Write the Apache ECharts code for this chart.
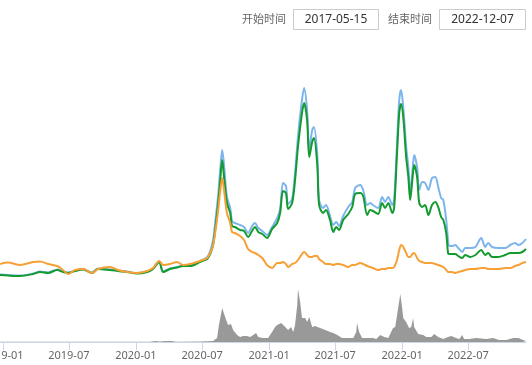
<!DOCTYPE html>
<html>
<head>
<meta charset="utf-8">
<script src="https://cdn.jsdelivr.net/npm/echarts@6/dist/echarts.min.js"></script>
<style>
html,body{margin:0;padding:0;background:#fff;}
#chart{width:532px;height:365px;}
</style>
</head>
<body>
<div id="chart"></div>
<script>
var startLabel = '开始时间';
var endLabel = '结束时间';
var startDate = '2017-05-15';
var endDate = '2022-12-07';
var axisMin = '2018-12-24';
var axisMax = '2022-12-07';

var tickDates = ['2019-01-01','2019-07-01','2020-01-01','2020-07-01','2021-01-01','2021-07-01','2022-01-01','2022-07-01'];

var lineDates = ['2018-12-24','2019-01-15','2019-02-17','2019-03-25','2019-04-13','2019-05-05','2019-05-30','2019-06-15','2019-06-29','2019-07-18',
'2019-08-09','2019-09-03','2019-09-19','2019-10-22','2019-11-13','2019-12-08','2020-01-04','2020-02-01','2020-02-17','2020-03-05',
'2020-03-16','2020-04-04','2020-04-23','2020-05-10','2020-05-29','2020-06-25','2020-07-15','2020-07-23','2020-07-31','2020-08-08',
'2020-08-14','2020-08-19','2020-08-25','2020-08-30','2020-09-07','2020-09-16','2020-09-21','2020-09-29','2020-10-13','2020-10-24',
'2020-11-04','2020-11-15','2020-11-23','2020-12-02','2020-12-13','2020-12-26','2021-01-09','2021-01-23','2021-01-31','2021-02-08',
'2021-02-16','2021-02-22','2021-03-05','2021-03-13','2021-03-21','2021-04-01','2021-04-07','2021-04-15','2021-04-21','2021-04-29',
'2021-05-04','2021-05-13','2021-05-18','2021-05-29','2021-06-06','2021-06-17','2021-06-26','2021-07-04','2021-07-12','2021-07-23',
'2021-08-06','2021-08-17','2021-08-25','2021-09-08','2021-09-16','2021-09-27','2021-10-05','2021-10-13','2021-10-27','2021-11-07',
'2021-11-15','2021-11-24','2021-12-05','2021-12-10','2021-12-18','2021-12-24','2021-12-29','2022-01-04','2022-01-12','2022-01-18',
'2022-01-23','2022-01-29','2022-02-03','2022-02-11','2022-02-17','2022-02-25','2022-03-05','2022-03-14','2022-03-24','2022-04-02',
'2022-04-10','2022-04-18','2022-04-24','2022-05-02','2022-05-07','2022-05-10','2022-05-18','2022-05-27','2022-06-04','2022-06-15',
'2022-06-23','2022-07-07','2022-07-21','2022-08-06','2022-08-17','2022-08-25','2022-09-05','2022-09-22','2022-10-11','2022-10-25',
'2022-11-07','2022-11-16','2022-11-27','2022-12-07'];

var orangeValues = [16,17.5,15,18,18.5,16,14,10,6,10,
11,7,11,13,10,8,7,9,12,19,
15,16,18,15,16,19,22,27,35,53,
70,87,102,90,67,57,48,47,44,40,
31,28,27,25,22,15,12,17,17,18,
16,13,16,17,20,26,28,25,23,23,
24,24,21,18,16,16,15,16,16,15,
13,15,15,17,16,14,13,12,10,11,
11,12,12,13,20,30,35,33,27,23,
23,26,27,22,19,18,17,17,17,16,
15,14,13,10,8,8,8,7,8,9,
10,11,11,12,12,11,11,11,12,12,
14,15,17,18];

var greenValues = [5,4.5,4,6,8,7,10,8,7,9,
10.5,7,11,10,9,8,6.5,8,11,18,
8,11,12.5,14,14,18,21,26,35,57,
77,97,120,103,77,67,54,53,50,49,
43,49,53,48,46,42,51,57,67,89,
87,71,77,100,133,167,177,160,123,138,
142,115,75,67,70,60,48,53,50,60,
66,73,86,87,84,65,70,69,66,77,
72,77,67,72,127,167,176,163,123,103,
80,100,115,103,77,73,75,65,75,78,
73,63,60,47,27,26,26,26,24,22,
25,23,25,30,25,27,23,23,25,27,
27,27,28,31];

var blueValues = [5.5,5,4.5,6.5,8.5,7.5,10.5,8.5,7.5,9.5,
11,7.5,11.5,10.5,9.5,8.5,7,8.5,11.5,18.5,
8.5,11.5,13,14.5,15,19,23,29,40,65,
85,108,130,115,83,72,59,57,55,53,
47,54,57,52,49,45,53,62,71,97,
94,76,81,107,143,180,192,170,130,150,
153,125,80,72,75,64,55,58,54,64,
73,78,92,95,90,75,77,75,72,83,
78,83,75,80,137,180,190,173,133,113,
87,107,125,113,90,98,97,90,102,103,
93,82,80,60,40,34,34,35,32,28,
32,32,33,42,33,37,33,32,32,35,
37,35,37,41];

var areaDates = ['2018-12-24','2019-09-25','2020-02-09','2020-02-23','2020-03-07','2020-03-21','2020-04-09','2020-04-20','2020-06-25','2020-07-31',
'2020-08-11','2020-08-16','2020-08-25','2020-09-02','2020-09-10','2020-09-18','2020-09-24','2020-10-05','2020-10-13','2020-10-21',
'2020-11-01','2020-11-10','2020-11-18','2020-11-26','2020-12-02','2020-12-15','2020-12-29','2021-01-09','2021-01-17','2021-01-23',
'2021-01-26','2021-02-03','2021-02-14','2021-02-22','2021-03-02','2021-03-08','2021-03-13','2021-03-19','2021-03-21','2021-03-27',
'2021-04-01','2021-04-10','2021-04-15','2021-04-21','2021-04-29','2021-05-07','2021-05-21','2021-06-04','2021-06-17','2021-06-26',
'2021-07-07','2021-07-20','2021-07-29','2021-08-06','2021-08-20','2021-08-28','2021-08-30','2021-09-05','2021-09-13','2021-09-24',
'2021-10-13','2021-10-22','2021-11-02','2021-11-13','2021-11-24','2021-12-07','2021-12-13','2021-12-21','2021-12-27','2022-01-01',
'2022-01-04','2022-01-12','2022-01-20','2022-01-26','2022-01-31','2022-02-03','2022-02-14','2022-02-28','2022-03-08','2022-03-22',
'2022-03-30','2022-04-02','2022-04-10','2022-04-24','2022-05-07','2022-05-16','2022-05-29','2022-06-07','2022-06-15','2022-06-20',
'2022-07-04','2022-07-23','2022-08-20','2022-09-08','2022-09-24','2022-10-14','2022-11-02','2022-11-16','2022-11-29','2022-12-07'];

var areaValues = [0.3,0.3,0.3,1,0.5,1,1,0.3,0.5,1,
4,17,34,25,17,18,12,7,5,6,
6,5,7,9,5,4,4,10,15,17,
15,19,15,12,15,10,17,37,53,40,
24,24,20,25,15,16,14,12,10,9,
7,4,4,4,4,10,19,10,4,4,
4,3,7,5,4,14,15,34,48,34,
24,20,14,15,24,15,8,7,5,5,
8,10,5,3,5,6,4,3,7,3,
3,4,3,4,2,2,4,4,2,1];

function ts(d) { return echarts.time.parse(d).getTime(); }
function pairs(dates, vals) {
  return dates.map(function (d, i) { return [ts(d), vals[i]]; });
}
var tickValues = tickDates.map(ts);

var chart = echarts.init(document.getElementById('chart'), null, {renderer: 'canvas'});
var lineFont = 'Noto Sans, Liberation Sans, Noto Sans CJK SC, sans-serif';

chart.setOption({
  animation: false,
  backgroundColor: '#ffffff',
  grid: [
    {left: 0, right: 6, top: 80, height: 200, containLabel: false, outerBoundsMode: 'none'},
    {left: 0, right: 6, top: 282, height: 60, containLabel: false, outerBoundsMode: 'none'}
  ],
  xAxis: [
    {type: 'value', gridIndex: 0, min: ts(axisMin), max: ts(axisMax), show: false, splitLine: {show: false}},
    {type: 'value', gridIndex: 1, min: ts(axisMin), max: ts(axisMax),
      axisLine: {show: true, onZero: false, lineStyle: {color: '#ccd6eb', width: 1}},
      axisTick: {show: true, length: 8, customValues: tickValues, lineStyle: {color: '#ccd6eb'}},
      splitLine: {show: false},
      axisLabel: {
        customValues: tickValues,
        margin: 8,
        align: 'center',
        alignMinLabel: 'center',
        alignMaxLabel: 'center',
        hideOverlap: false,
        color: '#666666',
        fontSize: 11,
        fontFamily: lineFont,
        formatter: function (v) { return echarts.time.format(v, '{yyyy}-{MM}', false); }
      }
    }
  ],
  yAxis: [
    {type: 'value', gridIndex: 0, min: 0, max: 200, show: false},
    {type: 'value', gridIndex: 1, min: 0, max: 60, show: false}
  ],
  series: [
    {type: 'line', xAxisIndex: 0, yAxisIndex: 0, data: pairs(lineDates, blueValues), showSymbol: false, symbol: 'none',
      smooth: 0.3, lineStyle: {color: '#7cb5ec', width: 2}, itemStyle: {color: '#7cb5ec'}},
    {type: 'line', xAxisIndex: 0, yAxisIndex: 0, data: pairs(lineDates, greenValues), showSymbol: false, symbol: 'none',
      smooth: 0.3, lineStyle: {color: '#139a30', width: 2}, itemStyle: {color: '#139a30'}},
    {type: 'line', xAxisIndex: 0, yAxisIndex: 0, data: pairs(lineDates, orangeValues), showSymbol: false, symbol: 'none',
      smooth: 0.3, lineStyle: {color: '#f7a035', width: 2}, itemStyle: {color: '#f7a035'}},
    {type: 'line', xAxisIndex: 1, yAxisIndex: 1, data: pairs(areaDates, areaValues), showSymbol: false, symbol: 'none',
      smooth: false, lineStyle: {width: 0, color: '#999999'}, itemStyle: {color: '#999999'},
      areaStyle: {color: '#999999', opacity: 1}}
  ],
  graphic: [
    {type: 'text', left: 242, top: 13, style: {text: startLabel, fill: '#666666', font: '11px "Noto Sans CJK SC", sans-serif'}},
    {type: 'rect', shape: {x: 293.5, y: 9.5, width: 85, height: 20}, style: {fill: '#ffffff', stroke: '#cccccc', lineWidth: 1}},
    {type: 'text', x: 336, y: 20, style: {text: startDate, fill: '#333333', font: '12px "Noto Sans", sans-serif', textAlign: 'center', textVerticalAlign: 'middle'}},
    {type: 'text', left: 388, top: 13, style: {text: endLabel, fill: '#666666', font: '11px "Noto Sans CJK SC", sans-serif'}},
    {type: 'rect', shape: {x: 439.5, y: 9.5, width: 86, height: 20}, style: {fill: '#ffffff', stroke: '#cccccc', lineWidth: 1}},
    {type: 'text', x: 482.5, y: 20, style: {text: endDate, fill: '#333333', font: '12px "Noto Sans", sans-serif', textAlign: 'center', textVerticalAlign: 'middle'}}
  ]
});
</script>
</body>
</html>
